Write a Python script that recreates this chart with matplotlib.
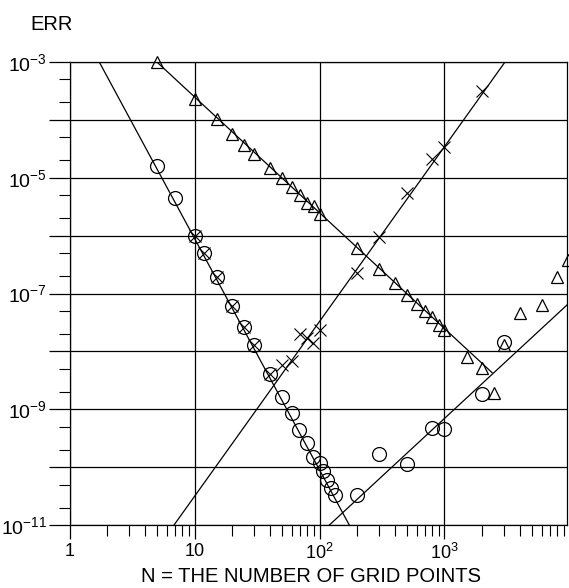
import numpy as np
import matplotlib
matplotlib.use("Agg")
import matplotlib.pyplot as plt
from matplotlib.ticker import FixedLocator, NullFormatter

plt.rcParams['font.family'] = ['Liberation Sans', 'DejaVu Sans']
plt.rcParams['mathtext.fontset'] = 'custom'
plt.rcParams['mathtext.rm'] = 'Liberation Sans'
plt.rcParams['mathtext.it'] = 'Liberation Sans'

# circles, decreasing branch
circ_x = [5, 7, 10, 12, 15, 20, 25, 30, 40, 50, 60, 68, 79, 88, 100, 107, 114, 124, 132]
circ_y = [1.6e-5, 4.4e-6, 1.0e-6, 5.1e-7, 1.96e-7, 6.2e-8, 2.6e-8, 1.3e-8, 4.1e-9,
          1.66e-9, 8.5e-10, 4.4e-10, 2.6e-10, 1.5e-10, 1.2e-10, 8.7e-11, 6.0e-11,
          4.3e-11, 3.3e-11]
# circles, increasing branch (round-off)
circ2_x = [200, 300, 500, 800, 1000, 2000, 3000]
circ2_y = [3.3e-11, 1.7e-10, 1.13e-10, 4.8e-10, 4.5e-10, 1.8e-9, 1.44e-8]

# crosses
cross_x = [10, 12, 15, 20, 25, 30, 40,
           50, 60, 70, 79, 88, 100, 200, 300, 500, 800, 1000, 2000]
cross_y = [1.0e-6, 5.1e-7, 1.96e-7, 6.2e-8, 2.6e-8, 1.3e-8, 4.1e-9,
           5.9e-9, 6.7e-9, 2.0e-8, 1.7e-8, 1.4e-8, 2.3e-8, 2.3e-7, 9.3e-7,
           5.4e-6, 2.1e-5, 3.4e-5, 3.2e-4]

# triangles
tri_x = [5, 10, 15, 20, 25, 30, 40, 50, 60, 70, 80, 90, 100, 200, 300, 400, 500,
         600, 700, 800, 900, 1000, 1500, 2000, 2500, 3000, 4000, 6000, 8000, 9800]
tri_y = [1.0e-3, 2.3e-4, 1.04e-4, 5.6e-5, 3.7e-5, 2.6e-5, 1.5e-5, 1.0e-5, 6.9e-6,
         5.0e-6, 3.7e-6, 3.2e-6, 2.4e-6, 6.0e-7, 2.7e-7, 1.5e-7, 9.5e-8, 6.6e-8,
         5.0e-8, 3.9e-8, 2.9e-8, 2.3e-8, 7.9e-9, 5.2e-9, 1.9e-9, 1.3e-8, 4.6e-8,
         6.3e-8, 1.9e-7, 3.8e-7]

# reference slopes
fit4_x, fit4_y = [1.73, 173], [1e-3, 1e-11]      # N^-4
fit2_x, fit2_y = [5, 2400], [1e-3, 4.3e-9]       # N^-2
fit3_x, fit3_y = [6.86, 3048], [1e-11, 1e-3]     # N^3
fitr_x, fitr_y = [120, 12000], [1e-11, 1e-7]     # N^2 round-off

fig = plt.figure(figsize=(5.69, 5.88), dpi=100)
ax = fig.add_axes([69.5 / 569, 63 / 588, (567 - 69.5) / 569, (525 - 62) / 588])
ax.set_xscale('log')
ax.set_yscale('log')
ax.set_xlim(1, 10 ** ((567 - 69.5) / 125))
ax.set_ylim(1e-11, 1e-3)

lw = 0.9
ax.plot(fit4_x, fit4_y, color='black', lw=lw)
ax.plot(fit2_x, fit2_y, color='black', lw=lw)
ax.plot(fit3_x, fit3_y, color='black', lw=lw)
ax.plot(fitr_x, fitr_y, color='black', lw=lw)

ax.plot(circ_x, circ_y, 'o', ms=10, mfc='none', mec='black', mew=0.9, clip_on=False)
ax.plot(circ2_x, circ2_y, 'o', ms=10, mfc='none', mec='black', mew=0.9)
ax.plot(cross_x, cross_y, 'x', ms=8, color='black', mew=0.8)
ax.plot(tri_x, tri_y, '^', ms=9, mfc='none', mec='black', mew=0.9, clip_on=False)

# axes, ticks, grid
ax.xaxis.set_major_locator(FixedLocator([1, 10, 100, 1000]))
ax.set_xticklabels(['1', '10', '10$^{2}$', '10$^{3}$'])
ax.xaxis.set_minor_locator(FixedLocator([m * 10 ** e for e in range(0, 4) for m in range(2, 10)]))
ax.xaxis.set_minor_formatter(NullFormatter())

yt = [10.0 ** e for e in range(-11, -2)]
ax.yaxis.set_major_locator(FixedLocator(yt))
ax.set_yticklabels(['10$^{%d}$' % e if e % 2 else '' for e in range(-11, -2)])
ax.yaxis.set_minor_locator(FixedLocator([m * 10.0 ** e for e in range(-11, -3) for m in (2, 5)]))
ax.yaxis.set_minor_formatter(NullFormatter())

ax.tick_params(axis='x', which='major', direction='out', length=10, width=0.9,
               labelsize=13, color='black', pad=3)
ax.tick_params(axis='y', which='major', direction='out', length=15, width=0.9,
               labelsize=14, color='black', pad=1)
ax.tick_params(which='minor', direction='out', length=8, width=0.8, color='black')
ax.grid(True, which='major', color='black', lw=0.9)
for s in ax.spines.values():
    s.set_linewidth(0.9)

fig.text(311 / 569, 1 - 577 / 588, 'N = THE NUMBER OF GRID POINTS', fontsize=14.5,
         ha='center', va='center')
fig.text(52 / 569, 1 - 25 / 588, 'ERR', fontsize=14.5, ha='center', va='center')

fig.savefig('out.png', dpi=100)
